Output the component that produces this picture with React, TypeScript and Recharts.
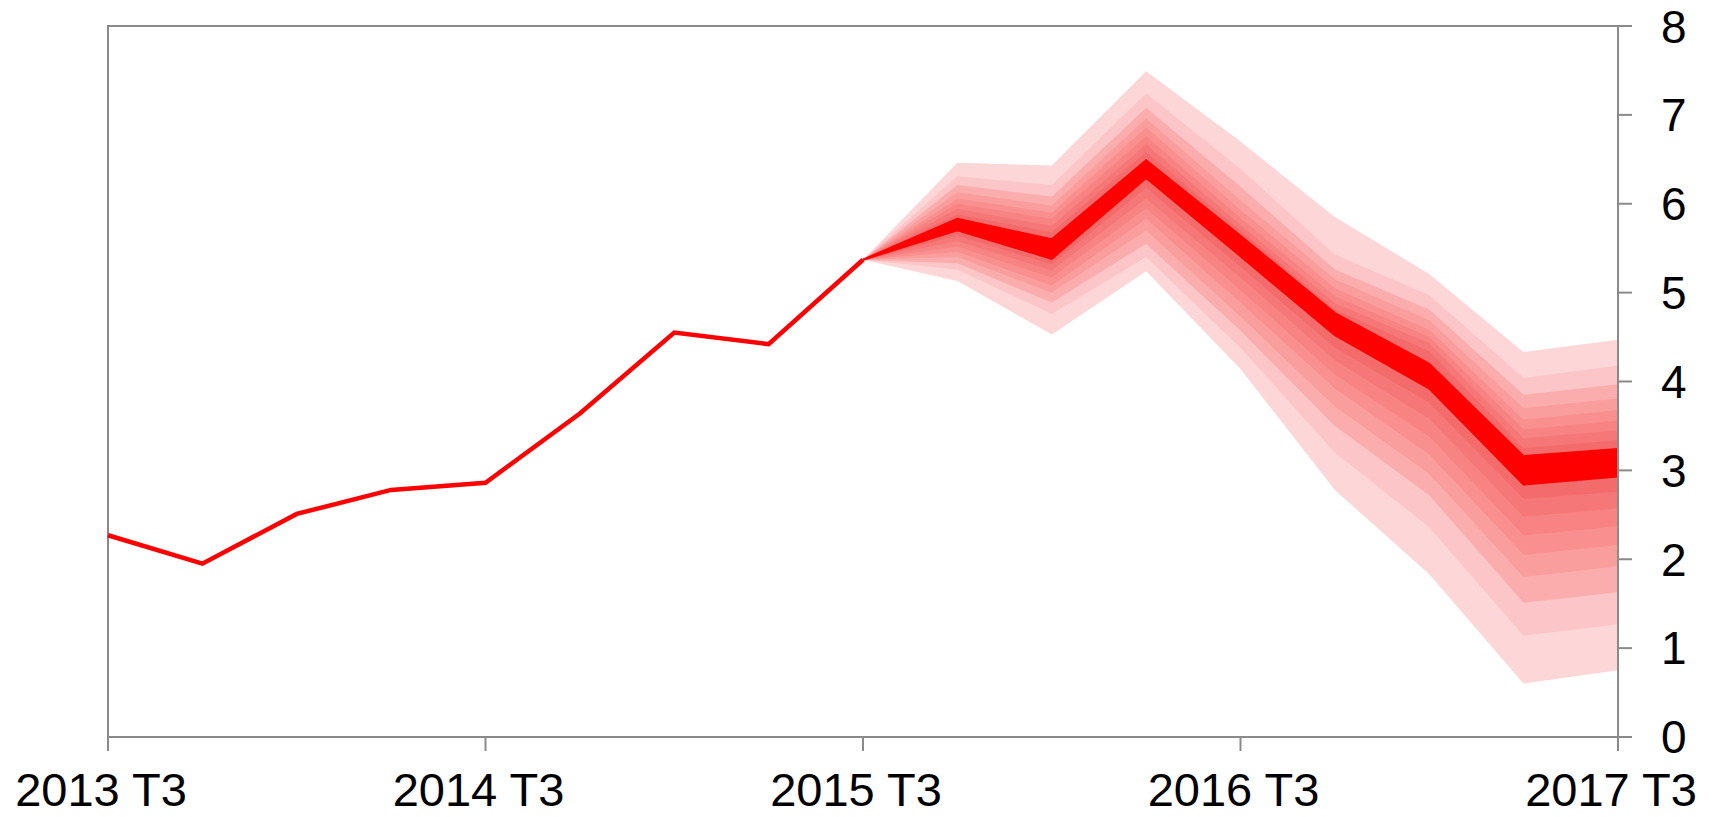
import React from "react";
import { ComposedChart, Area, Line, XAxis, YAxis, ReferenceArea } from "recharts";

const FONT = "'Liberation Sans', Arial, sans-serif";
const AXIS_GREY = "#8a8a8a";

const QUARTERS = [
  "2013 T3", "2013 T4", "2014 T1", "2014 T2", "2014 T3", "2014 T4", "2015 T1", "2015 T2", "2015 T3",
  "2015 T4", "2016 T1", "2016 T2", "2016 T3", "2016 T4", "2017 T1", "2017 T2", "2017 T3",
];
const Y_TICKS = [0, 1, 2, 3, 4, 5, 6, 7, 8];

// observed values up to 2015 T3
const HISTORY = [2.27, 1.95, 2.51, 2.78, 2.86, 3.64, 4.55, 4.42, 5.37];
const FAN_START = 8;

// fan quantiles, 2015 T3 .. 2017 T3
const Q95 = [5.37, 6.46, 6.43, 7.49, 6.70, 5.85, 5.21, 4.33, 4.47];
const Q90 = [5.37, 6.31, 6.21, 7.24, 6.39, 5.43, 4.97, 4.04, 4.18];
const Q85 = [5.37, 6.21, 6.08, 7.08, 6.19, 5.26, 4.81, 3.85, 3.97];
const Q80 = [5.37, 6.13, 5.98, 6.96, 6.04, 5.15, 4.69, 3.70, 3.81];
const Q75 = [5.37, 6.06, 5.90, 6.86, 5.93, 5.05, 4.58, 3.57, 3.68];
const Q70 = [5.37, 6.00, 5.83, 6.76, 5.84, 4.96, 4.50, 3.46, 3.56];
const Q65 = [5.37, 5.94, 5.75, 6.67, 5.76, 4.88, 4.43, 3.36, 3.45];
const Q60 = [5.37, 5.88, 5.68, 6.58, 5.70, 4.81, 4.34, 3.25, 3.34];
const Q55 = [5.37, 5.83, 5.60, 6.49, 5.64, 4.77, 4.20, 3.16, 3.24];
const Q45 = [5.37, 5.70, 5.38, 6.29, 5.41, 4.52, 3.92, 2.84, 2.93];
const Q40 = [5.37, 5.64, 5.32, 6.18, 5.29, 4.38, 3.76, 2.68, 2.76];
const Q35 = [5.37, 5.58, 5.25, 6.06, 5.17, 4.24, 3.58, 2.48, 2.57];
const Q30 = [5.37, 5.52, 5.17, 5.95, 5.03, 4.08, 3.38, 2.27, 2.37];
const Q25 = [5.37, 5.46, 5.08, 5.83, 4.89, 3.92, 3.18, 2.05, 2.16];
const Q20 = [5.37, 5.40, 5.00, 5.70, 4.73, 3.72, 2.96, 1.80, 1.92];
const Q15 = [5.37, 5.33, 4.89, 5.55, 4.57, 3.50, 2.72, 1.51, 1.63];
const Q10 = [5.37, 5.26, 4.76, 5.40, 4.38, 3.20, 2.36, 1.14, 1.27];
const Q05 = [5.37, 5.13, 4.53, 5.24, 4.14, 2.78, 1.83, 0.60, 0.75];

// outer band first, central band last
const BANDS = [
  { lo: Q05, hi: Q95, color: "#fdd6d7" },
  { lo: Q10, hi: Q90, color: "#fcc5c7" },
  { lo: Q15, hi: Q85, color: "#fbadae" },
  { lo: Q20, hi: Q80, color: "#fa9d9d" },
  { lo: Q25, hi: Q75, color: "#f98f8f" },
  { lo: Q30, hi: Q70, color: "#f78383" },
  { lo: Q35, hi: Q65, color: "#f67777" },
  { lo: Q40, hi: Q60, color: "#f46b6b" },
  { lo: Q45, hi: Q55, color: "#ff0000" },
];

const rows = QUARTERS.map((q, i) => {
  const row: any = { q, hist: i < HISTORY.length ? HISTORY[i] : null };
  const j = i - FAN_START;
  BANDS.forEach((b, k) => {
    row["b" + k] = j >= 0 ? [b.lo[j], b.hi[j]] : null;
  });
  return row;
});

function QuarterTick({ x, y, payload }: any) {
  return (
    <text x={x - 7} y={y} dy="0.71em" textAnchor="middle" fontSize={47} fill="#000" fontFamily={FONT}>
      {payload.value}
    </text>
  );
}

export default function App() {
  return (
    <div style={{ width: 1716, height: 817, background: "#fff" }}>
      <style>{"body{margin:0}"}</style>
      <ComposedChart width={1716} height={817} data={rows} margin={{ top: 26, right: 0, bottom: 0, left: 108 }}>
        <XAxis
          dataKey="q"
          interval={3}
          height={80}
          tick={<QuarterTick />}
          tickSize={14}
          tickMargin={22}
          axisLine={{ stroke: AXIS_GREY, strokeWidth: 2 }}
          tickLine={{ stroke: AXIS_GREY, strokeWidth: 2 }}
        />
        <YAxis
          orientation="right"
          domain={[0, 8]}
          ticks={Y_TICKS}
          width={98}
          tickSize={14}
          tickMargin={29}
          tick={{ fontSize: 46, fill: "#000", fontFamily: FONT }}
          axisLine={{ stroke: AXIS_GREY, strokeWidth: 2 }}
          tickLine={{ stroke: AXIS_GREY, strokeWidth: 2 }}
        />
        <ReferenceArea x1="2013 T3" x2="2017 T3" y1={0} y2={8} fill="none" stroke={AXIS_GREY} strokeWidth={2} />
        {BANDS.map((b, k) => (
          <Area
            key={k}
            dataKey={"b" + k}
            type="linear"
            fill={b.color}
            fillOpacity={1}
            stroke={k === BANDS.length - 1 ? "#ff0000" : "none"}
            strokeWidth={k === BANDS.length - 1 ? 2 : 0}
            isAnimationActive={false}
            activeDot={false}
          />
        ))}
        <Line
          dataKey="hist"
          type="linear"
          stroke="#ff0000"
          strokeWidth={4.5}
          dot={false}
          activeDot={false}
          isAnimationActive={false}
        />
      </ComposedChart>
    </div>
  );
}
